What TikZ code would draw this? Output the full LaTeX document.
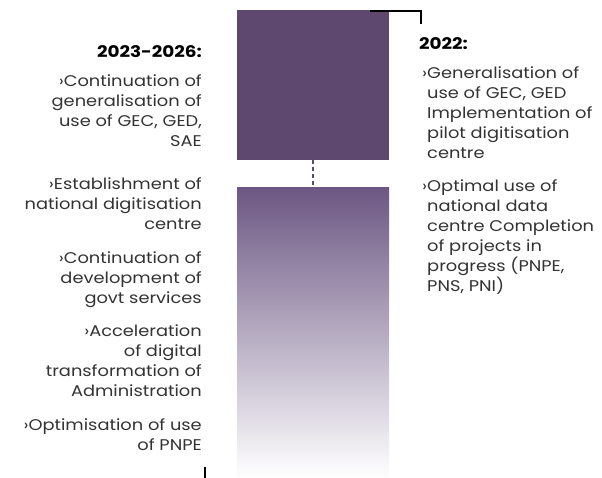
\documentclass[tikz,border=0pt]{standalone}
\usepackage{fontspec}
\setmainfont{Poppins}[FakeStretch=1.15]
\definecolor{barpurple}{HTML}{5F4870}
\definecolor{barlight}{HTML}{6C5783}
\definecolor{txtgray}{HTML}{333333}
\tikzset{
  heading/.style={font=\fontsize{16}{20}\selectfont\bfseries, text=black, inner sep=0pt},
  leftitem/.style={font=\fontsize{15.5}{20}\selectfont, text=txtgray, align=right, anchor=north east, inner sep=0pt},
  rightitem/.style={font=\fontsize{15.5}{20}\selectfont, text=txtgray, align=left, anchor=north west, inner sep=0pt},
  bracket/.style={black, line width=2pt}
}
\newcommand{\itm}{\llap{›}}
\begin{document}
\begin{tikzpicture}[x=1pt,y=-1pt]
    \useasboundingbox (0,0) rectangle (602,478);

    % Barres
    \node[fill=barpurple, minimum width=152pt, minimum height=150pt, inner sep=0pt, anchor=north west] (bartop) at (237,10) {};
    \node[top color=barlight, bottom color=white, minimum width=152pt, minimum height=291pt, inner sep=0pt, anchor=north west] (barbot) at (237,187) {};
    \draw[barpurple, line width=2pt, dash pattern=on 4pt off 3pt] (bartop.south) -- (barbot.north);

    % Repères
    \coordinate (tl) at (370,11);
    \coordinate (tr) at (421,11);
    \coordinate (td) at (421,24);
    \draw[bracket] (tl) -- (tr) -- (td);
    \coordinate (bu) at (205,467);
    \coordinate (bd) at (205,478);
    \draw[bracket] (bu) -- (bd);

    % Colonne gauche : 2023-2026
    \node[heading, anchor=base east] (h2023) at (202,58) {2023-2026:};
    \node[leftitem] (l1) at (202,74) {›Continuation of\\generalisation of\\use of GEC, GED,\\SAE};
    \node[leftitem] (l2) at (202,177) {›Establishment of\\national digitisation\\centre};
    \node[leftitem] (l3) at (202,251) {›Continuation of\\development of\\govt services};
    \node[leftitem] (l4) at (202,325) {›Acceleration\\of digital\\transformation of\\Administration};
    \node[leftitem] (l5) at (202,418) {›Optimisation of use\\of PNPE};

    % Colonne droite : 2022
    \node[heading, anchor=base west] (h2022) at (419,50) {2022:};
    \node[rightitem] (r1) at (427,66) {\itm Generalisation of\\use of GEC, GED\\Implementation of\\pilot digitisation\\centre};
    \node[rightitem] (r2) at (427,179) {\itm Optimal use of\\national data\\centre Completion\\of projects in\\progress (PNPE,\\PNS, PNI)};
\end{tikzpicture}
\end{document}
